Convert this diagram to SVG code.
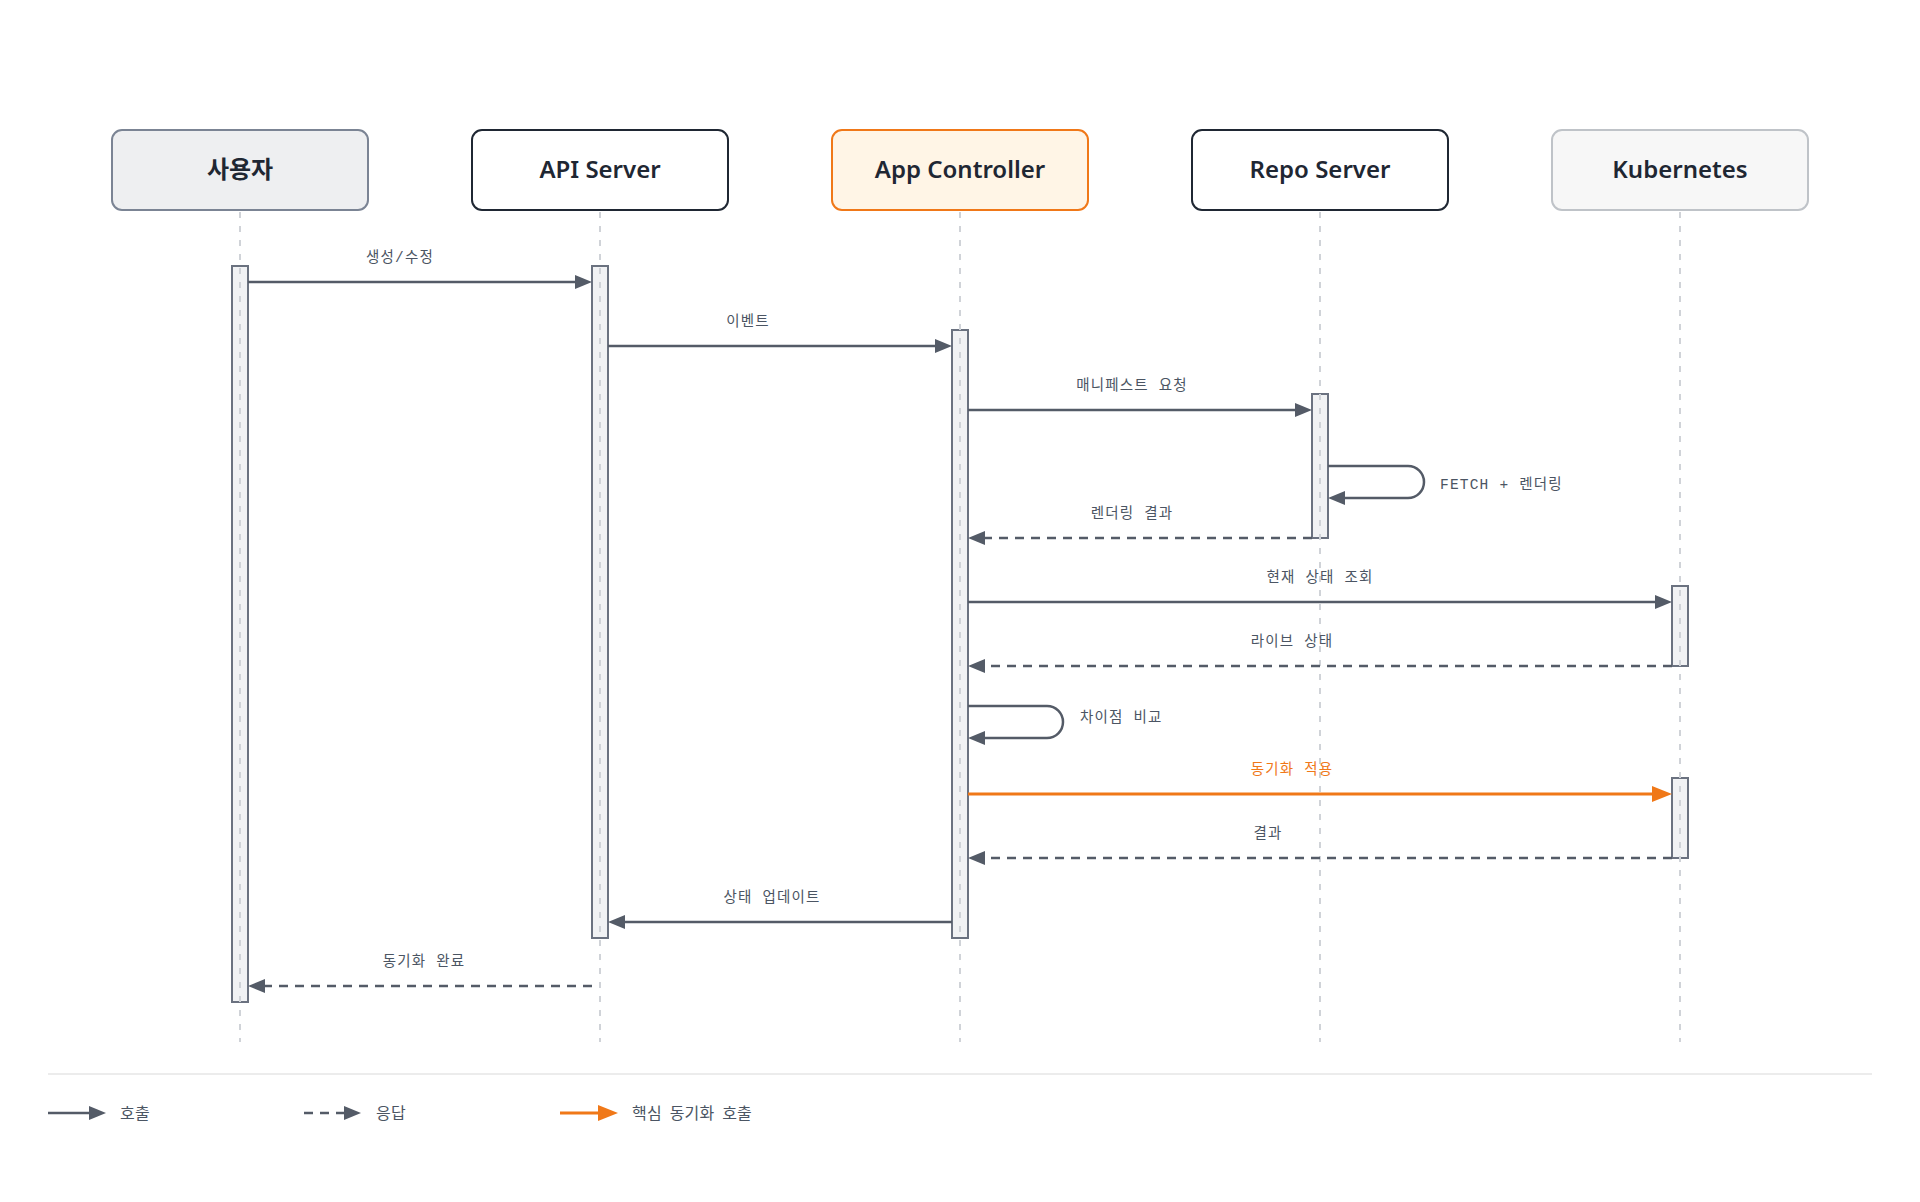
<svg xmlns="http://www.w3.org/2000/svg" width="1920" height="1202" viewBox="0 0 1920 1202">
  <style>
    .box { stroke-width: 2; }
    .title { font-family: "Noto Sans", "Noto Sans CJK KR", sans-serif; font-size: 24px; font-weight: 600; fill: #1f2733; text-anchor: middle; }
    .life { stroke: #d0d3d8; stroke-width: 2; stroke-dasharray: 6 8; fill: none; }
    .bar { fill: #f1f2f4; stroke: #6b7280; stroke-width: 2; }
    .m { stroke: #545b67; stroke-width: 2.5; fill: none; marker-end: url(#ah); }
    .d { stroke-dasharray: 9 7; }
    .o { stroke: #f07818; stroke-width: 3; fill: none; marker-end: url(#aho); }
    .lbl { font-family: "Liberation Mono", "Noto Sans CJK KR", monospace; font-size: 14.5px; letter-spacing: 1.2px; fill: #4b5563; text-anchor: middle; }
    .start { text-anchor: start; }
    .olbl { fill: #f07818; }
    .leg { font-family: "Liberation Mono", "Noto Sans CJK KR", monospace; font-size: 16px; letter-spacing: 0.2px; word-spacing: -2px; fill: #4b5563; }
  </style>
  <defs>
    <marker id="ah" markerUnits="userSpaceOnUse" markerWidth="18" markerHeight="14" refX="9" refY="7" orient="auto">
      <path d="M0,0 L17,7 L0,14 z" fill="#545b67"/>
    </marker>
    <marker id="aho" markerUnits="userSpaceOnUse" markerWidth="21" markerHeight="16" refX="10" refY="8" orient="auto">
      <path d="M0,0 L20,8 L0,16 z" fill="#f07818"/>
    </marker>
  </defs>
  <rect width="1920" height="1202" fill="#ffffff"/>

  <g id="node-user">
    <rect class="box" x="112" y="130" width="256" height="80" rx="10" fill="#eeeff1" stroke="#7b8494"/>
    <text class="title" x="240" y="177.5">사용자</text>
  </g>
  <g id="node-api">
    <rect class="box" x="472" y="130" width="256" height="80" rx="10" fill="#ffffff" stroke="#1f2733"/>
    <text class="title" x="600" y="177.5">API Server</text>
  </g>
  <g id="node-controller">
    <rect class="box" x="832" y="130" width="256" height="80" rx="10" fill="#fff5e6" stroke="#f07818"/>
    <text class="title" x="960" y="177.5">App Controller</text>
  </g>
  <g id="node-repo">
    <rect class="box" x="1192" y="130" width="256" height="80" rx="10" fill="#ffffff" stroke="#1f2733"/>
    <text class="title" x="1320" y="177.5">Repo Server</text>
  </g>
  <g id="node-k8s">
    <rect class="box" x="1552" y="130" width="256" height="80" rx="10" fill="#f7f7f7" stroke="#bfc3c8"/>
    <text class="title" x="1680" y="177.5">Kubernetes</text>
  </g>

  <g id="activations">
    <rect class="bar" x="232" y="266" width="16" height="736"/>
    <rect class="bar" x="592" y="266" width="16" height="672"/>
    <rect class="bar" x="952" y="330" width="16" height="608"/>
    <rect class="bar" x="1312" y="394" width="16" height="144"/>
    <rect class="bar" x="1672" y="586" width="16" height="80"/>
    <rect class="bar" x="1672" y="778" width="16" height="80"/>
  </g>

  <g id="lifelines">
    <line class="life" x1="240" y1="212" x2="240" y2="1042"/>
    <line class="life" x1="600" y1="212" x2="600" y2="1042"/>
    <line class="life" x1="960" y1="212" x2="960" y2="1042"/>
    <line class="life" x1="1320" y1="212" x2="1320" y2="1042"/>
    <line class="life" x1="1680" y1="212" x2="1680" y2="1042"/>
  </g>

  <g id="connectors">
    <path class="m" d="M248,282 H584"/>
    <path class="m" d="M608,346 H944"/>
    <path class="m" d="M968,410 H1304"/>
    <path class="m" d="M1328,466 H1408 A16,16 0 0 1 1408,498 H1336"/>
    <path class="m d" d="M1312,538 H976"/>
    <path class="m" d="M968,602 H1664"/>
    <path class="m d" d="M1672,666 H976"/>
    <path class="m" d="M968,706 H1047 A16,16 0 0 1 1047,738 H976"/>
    <path class="o" d="M968,794 H1662"/>
    <path class="m d" d="M1672,858 H976"/>
    <path class="m" d="M952,922 H616"/>
    <path class="m d" d="M592,986 H256"/>
  </g>

  <g id="labels">
    <text class="lbl" x="400" y="262">생성/수정</text>
    <text class="lbl" x="748" y="326">이벤트</text>
    <text class="lbl" x="1132" y="390">매니페스트 요청</text>
    <text class="lbl start" x="1440" y="489">FETCH + 렌더링</text>
    <text class="lbl" x="1132" y="518">렌더링 결과</text>
    <text class="lbl" x="1320" y="582">현재 상태 조회</text>
    <text class="lbl" x="1292" y="646">라이브 상태</text>
    <text class="lbl start" x="1080" y="722">차이점 비교</text>
    <text class="lbl olbl" x="1292" y="774">동기화 적용</text>
    <text class="lbl" x="1268" y="838">결과</text>
    <text class="lbl" x="772" y="902">상태 업데이트</text>
    <text class="lbl" x="424" y="966">동기화 완료</text>
  </g>

  <g id="legend">
    <line x1="48" y1="1074" x2="1872" y2="1074" stroke="#ececec" stroke-width="2"/>
    <path class="m" d="M48,1113 H98"/>
    <text class="leg" x="120" y="1119">호출</text>
    <path class="m d" d="M304,1113 H353"/>
    <text class="leg" x="376" y="1119">응답</text>
    <path class="o" d="M560,1113 H608"/>
    <text class="leg" x="632" y="1119">핵심 동기화 호출</text>
  </g>
</svg>
